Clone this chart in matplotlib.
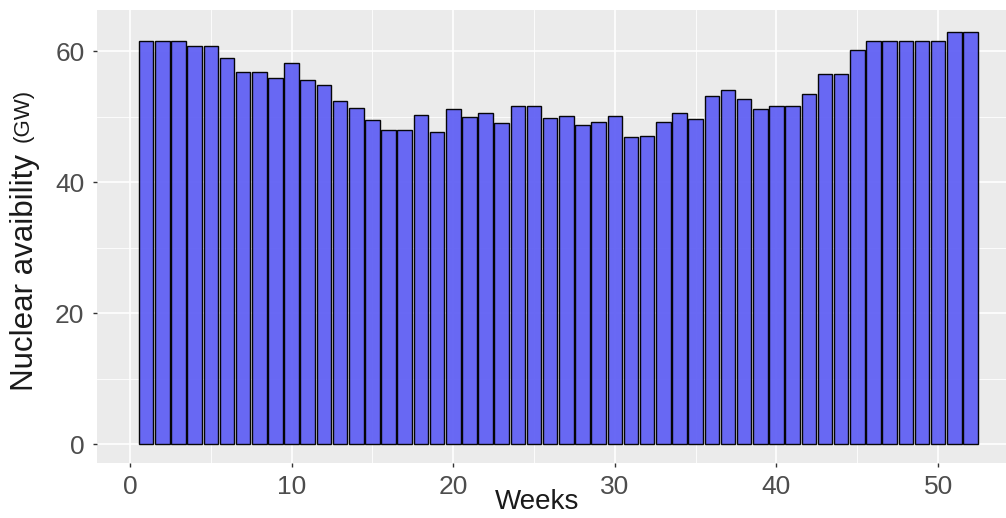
import numpy as np
import matplotlib.pyplot as plt
from matplotlib.ticker import MultipleLocator

plt.rcParams['font.family'] = ['Liberation Sans', 'DejaVu Sans']

# weekly nuclear availability (GW)
weeks = np.arange(1, 53)
availability = [61.6, 61.6, 61.6, 60.7, 60.7, 58.9, 56.8, 56.8, 55.9, 58.1,
                55.6, 54.8, 52.3, 51.3, 49.5, 48.0, 48.0, 50.2, 47.6, 51.2,
                49.9, 50.6, 49.0, 51.6, 51.6, 49.7, 50.1, 48.7, 49.1, 50.1,
                46.8, 47.0, 49.1, 50.5, 49.6, 53.1, 54.0, 52.7, 51.1, 51.6,
                51.6, 53.4, 56.5, 56.5, 60.2, 61.6, 61.6, 61.6, 61.6, 61.6,
                62.9, 62.9]
xticks = [0, 10, 20, 30, 40, 50]
yticks = [0, 20, 40, 60]

W, H = 1006, 518
fig = plt.figure(figsize=(W / 100, H / 100), dpi=100)
ax = fig.add_axes([97 / W, 1 - 463 / H, 1 - 97 / W, (463 - 10) / H])
ax.set_facecolor('#EBEBEB')

ax.bar(weeks, availability, width=0.9, color='#6464F4', edgecolor='black',
       linewidth=1.0, alpha=0.97, zorder=3)

ax.set_xlim(-2.04, 54.2)
ax.set_ylim(-2.9, 66.26)
ax.set_xticks(xticks)
ax.set_yticks(yticks)
ax.xaxis.set_minor_locator(MultipleLocator(5))
ax.yaxis.set_minor_locator(MultipleLocator(10))
ax.grid(which='major', color='white', linewidth=1.2, zorder=0)
ax.grid(which='minor', color='white', linewidth=0.6, zorder=0)
ax.set_axisbelow(True)
for s in ax.spines.values():
    s.set_visible(False)
ax.tick_params(which='major', length=3, width=1, color='#333333',
               labelsize=19, labelcolor='#4D4D4D', pad=6)
ax.tick_params(which='minor', length=0)

fig.text(537 / W, 1 - 502 / H, 'Weeks', fontsize=20, ha='center', va='center',
         color='#1A1A1A')
fig.text(25 / W, 1 - 391 / H, 'Nuclear avaibility', fontsize=22.5, rotation=90,
         ha='center', va='bottom', color='#1A1A1A')
fig.text(23 / W, 1 - 142 / H, '(GW)', fontsize=16, rotation=90,
         ha='center', va='bottom', color='#1A1A1A')

fig.savefig('out.png', dpi=100)
